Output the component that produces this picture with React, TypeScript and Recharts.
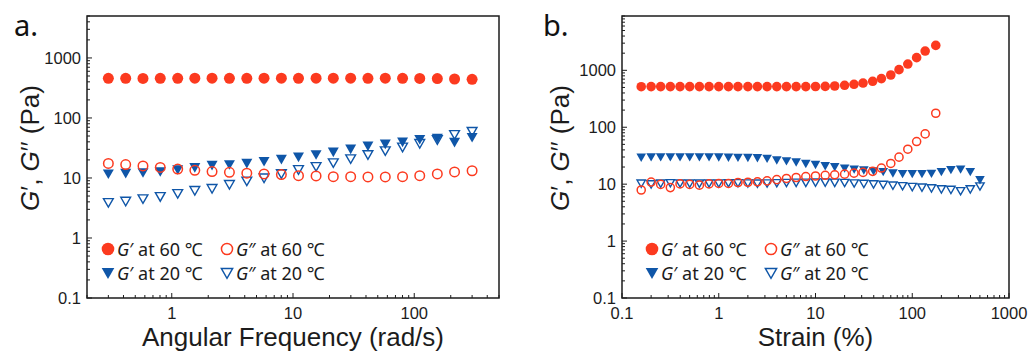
import { ScatterChart, Scatter, XAxis, YAxis, ReferenceArea, Legend } from 'recharts'

const RED = '#fc3a1f'
const BLUE = '#0f56a8'
const INK = '#1c1c1c'
const AXIS_FONT = '"Liberation Sans", Arial, sans-serif'
const NOTE_FONT = '"Noto Sans", "Noto Sans CJK SC", sans-serif'

// a. frequency sweep, angular frequency in rad/s
const FREQ = [0.3, 0.417, 0.579, 0.804, 1.12, 1.55, 2.15, 2.99, 4.16, 5.77, 8.02, 11.1, 15.5, 21.5, 29.9, 41.5, 57.7, 80.1, 111, 155, 215, 300]
const FREQ_G1_60 = [458, 458, 456, 458, 458, 460, 460, 458, 458, 460, 460, 458, 460, 460, 460, 458, 460, 458, 456, 454, 446, 440]
const FREQ_G2_60 = [17.5, 16.7, 15.9, 15.0, 14.1, 13.4, 12.8, 12.4, 12.0, 11.7, 11.4, 10.9, 10.8, 10.5, 10.5, 10.4, 10.4, 10.5, 10.9, 11.7, 12.6, 13.2]
const FREQ_G1_20 = [11.7, 12.0, 12.3, 12.8, 13.8, 15.0, 16.3, 16.7, 17.6, 18.9, 20.5, 22.4, 24.5, 27.1, 30.4, 34.1, 36.9, 39.8, 44.0, 46.0, 39.5, 47.5]
const FREQ_G2_20 = [3.9, 4.1, 4.5, 4.9, 5.5, 6.2, 6.7, 7.8, 8.9, 10.0, 11.8, 13.8, 15.5, 17.9, 20.9, 24.5, 28.4, 32.7, 37.6, 43.6, 53.0, 59.8]

// b. strain sweep, strain in %
const STRAIN_60 = [0.158, 0.2, 0.251, 0.316, 0.398, 0.501, 0.631, 0.794, 1, 1.26, 1.58, 2, 2.51, 3.16, 3.98, 5.01, 6.31, 7.94, 10, 12.6, 15.8, 20, 25, 31, 39, 48, 60, 73, 90, 111, 136, 175]
const STRAIN_G1_60 = [515, 518, 518, 518, 518, 518, 518, 518, 518, 518, 518, 518, 518, 518, 518, 518, 518, 518, 520, 522, 530, 545, 568, 598, 641, 715, 827, 1028, 1290, 1670, 2180, 2740]
const STRAIN_G2_60 = [7.9, 10.9, 9.9, 8.7, 10.1, 9.9, 9.6, 10.1, 10.3, 10.3, 10.7, 10.8, 11.0, 11.4, 12.0, 12.6, 13.1, 13.6, 13.9, 14.3, 14.6, 15.0, 15.6, 16.1, 16.8, 19.2, 23.1, 29.8, 41.1, 56.1, 76.3, 176]
const STRAIN_20 = [0.158, 0.2, 0.251, 0.316, 0.398, 0.501, 0.631, 0.794, 1, 1.26, 1.58, 2, 2.51, 3.16, 3.98, 5.01, 6.31, 7.94, 10, 12.6, 15.8, 20, 25.1, 31.6, 39.8, 50.1, 63.1, 79.4, 100, 126, 158, 200, 251, 316, 398, 501]
const STRAIN_G1_20 = [29.5, 30, 30, 30, 30, 30, 30, 30, 29.8, 29.6, 29.4, 29.2, 29.0, 28.2, 26.5, 25.5, 24.3, 23.0, 22.0, 20.9, 20.1, 19.0, 18.3, 17.6, 17.0, 16.5, 15.6, 15.2, 15.2, 15.2, 15.4, 16.5, 17.9, 18.3, 16.5, 11.9]
const STRAIN_G2_20 = [10.3, 10.0, 10.3, 10.5, 10.4, 10.3, 10.3, 10.4, 10.4, 10.5, 10.5, 10.4, 10.3, 10.4, 10.5, 10.6, 10.7, 10.7, 10.8, 10.8, 10.7, 10.6, 10.4, 10.2, 10.0, 9.8, 9.5, 9.3, 9.0, 8.8, 8.5, 8.2, 8.0, 7.6, 8.2, 9.2]

// axis ticks (decades get a label, the rest are minor marks)
const FREQ_TICKS = [0.2, 0.3, 0.4, 0.5, 0.6, 0.7, 0.8, 0.9, 1, 2, 3, 4, 5, 6, 7, 8, 9, 10, 20, 30, 40, 50, 60, 70, 80, 90, 100, 200, 300, 400, 500]
const STRAIN_TICKS = [0.1, 0.2, 0.3, 0.4, 0.5, 0.6, 0.7, 0.8, 0.9, 1, 2, 3, 4, 5, 6, 7, 8, 9, 10, 20, 30, 40, 50, 60, 70, 80, 90, 100, 200, 300, 400, 500, 600, 700, 800, 900, 1000]
const MOD_TICKS_A = [0.1, 0.2, 0.3, 0.4, 0.5, 0.6, 0.7, 0.8, 0.9, 1, 2, 3, 4, 5, 6, 7, 8, 9, 10, 20, 30, 40, 50, 60, 70, 80, 90, 100, 200, 300, 400, 500, 600, 700, 800, 900, 1000, 2000, 3000, 4000, 5000]
const MOD_TICKS_B = [0.1, 0.2, 0.3, 0.4, 0.5, 0.6, 0.7, 0.8, 0.9, 1, 2, 3, 4, 5, 6, 7, 8, 9, 10, 20, 30, 40, 50, 60, 70, 80, 90, 100, 200, 300, 400, 500, 600, 700, 800, 900, 1000, 2000, 3000, 4000, 5000, 6000, 7000, 8000, 9000]

const LEGEND = [
  { kind: 'dot', color: RED, mark: '′', temp: '60' },
  { kind: 'ring', color: RED, mark: '″', temp: '60' },
  { kind: 'tri', color: BLUE, mark: '′', temp: '20' },
  { kind: 'otri', color: BLUE, mark: '″', temp: '20' },
]

const GAP = 6
const isDecade = (v: number) => Math.abs(Math.log10(v) - Math.round(Math.log10(v))) < 1e-6

function Marker({ kind, color, cx, cy, s }: { kind: string; color: string; cx: number; cy: number; s: number }) {
  if (kind === 'dot') return <circle cx={cx} cy={cy} r={s} fill={color} />
  if (kind === 'ring') return <circle cx={cx} cy={cy} r={s - 0.75} fill="none" stroke={color} strokeWidth={1.5} />
  if (kind === 'tri') {
    const pts = `${cx - s},${cy - s * 0.8} ${cx + s},${cy - s * 0.8} ${cx},${cy + s * 0.95}`
    return <polygon points={pts} fill={color} />
  }
  const t = s - 0.6
  const pts = `${cx - t},${cy - t * 0.8} ${cx + t},${cy - t * 0.8} ${cx},${cy + t * 0.95}`
  return <polygon points={pts} fill="none" stroke={color} strokeWidth={1.4} />
}

const XTick = (props: any) => {
  const { x, y, payload } = props
  const ay = y - GAP
  const major = isDecade(payload.value)
  return (
    <g>
      <line x1={x} x2={x} y1={ay} y2={ay - (major ? 5 : 3)} stroke={INK} strokeWidth={1} />
      {major && (
        <text x={x} y={ay + 21} textAnchor="middle" fontSize={16.5} fontFamily={AXIS_FONT} fill={INK}>
          {String(payload.value)}
        </text>
      )}
    </g>
  )
}

const YTick = (props: any) => {
  const { x, y, payload } = props
  const ax = x + GAP
  const major = isDecade(payload.value)
  return (
    <g>
      <line x1={ax} x2={ax + (major ? 5 : 3)} y1={y} y2={y} stroke={INK} strokeWidth={1} />
      {major && (
        <text x={ax - 6} y={y} dy="0.36em" textAnchor="end" fontSize={16.5} fontFamily={AXIS_FONT} fill={INK}>
          {String(payload.value)}
        </text>
      )}
    </g>
  )
}

function LegendBlock({ s }: { s: number }) {
  return (
    <div style={{ position: 'relative', width: 240, height: 46, fontFamily: NOTE_FONT, fontSize: 18, color: INK }}>
      {LEGEND.map((it, i) => (
        <div
          key={i}
          style={{ position: 'absolute', left: (i % 2) * 119, top: Math.floor(i / 2) * 24, height: 20, display: 'flex', alignItems: 'center', whiteSpace: 'nowrap' }}
        >
          <svg width={14} height={20} style={{ overflow: 'visible' }}>
            <Marker kind={it.kind} color={it.color} cx={7} cy={10} s={s} />
          </svg>
          <span style={{ marginLeft: 2 }}>
            <i>G</i>{it.mark} at {it.temp} ℃
          </span>
        </div>
      ))}
    </div>
  )
}

type Series = { xs: number[]; ys: number[]; kind: string; color: string }

function Panel(p: {
  letter: string
  xDomain: [number, number]
  yDomain: [number, number]
  xTicks: number[]
  yTicks: number[]
  xTitle: string
  yTitleX: number
  yWidth: number
  right: number
  size: number
  legendLeft: number
  series: Series[]
}) {
  return (
    <div style={{ position: 'relative', width: 514, height: 354 }}>
      <div style={{ position: 'absolute', left: p.letter === 'a.' ? 14 : 29, top: 10, fontFamily: NOTE_FONT, fontSize: 29, lineHeight: '29px', color: '#111' }}>
        {p.letter}
      </div>
      <ScatterChart width={514} height={354} margin={{ top: 16, right: p.right, bottom: 0, left: 0 }} style={{ overflow: 'visible' }}>
        <XAxis
          type="number"
          dataKey="x"
          scale="log"
          domain={p.xDomain}
          allowDataOverflow
          ticks={p.xTicks}
          interval={0}
          tickSize={0}
          tickMargin={GAP}
          tickLine={false}
          axisLine={false}
          tick={XTick}
          height={56}
          label={(lp: any) => {
            const vb = lp.viewBox
            return (
              <text x={vb.x + vb.width / 2} y={vb.y + 48} textAnchor="middle" fontSize={26} fontFamily={AXIS_FONT} fill={INK}>
                {p.xTitle}
              </text>
            )
          }}
        />
        <YAxis
          type="number"
          dataKey="y"
          scale="log"
          domain={p.yDomain}
          allowDataOverflow
          ticks={p.yTicks}
          interval={0}
          tickSize={0}
          tickMargin={GAP}
          tickLine={false}
          axisLine={false}
          tick={YTick}
          width={p.yWidth}
          label={(lp: any) => {
            const vb = lp.viewBox
            const cy = vb.y + vb.height / 2 - 9
            return (
              <text
                transform={`translate(${p.yTitleX},${cy}) rotate(-90)`}
                textAnchor="middle"
                dominantBaseline="central"
                fontSize={26}
                fontFamily={AXIS_FONT}
                fill={INK}
              >
                <tspan fontStyle="italic">G</tspan>′, <tspan fontStyle="italic">G</tspan>′′ (Pa)
              </text>
            )
          }}
        />
        <ReferenceArea
          x1={p.xDomain[0]}
          x2={p.xDomain[1]}
          y1={p.yDomain[0]}
          y2={p.yDomain[1]}
          fill="none"
          fillOpacity={0}
          stroke={INK}
          strokeWidth={1.5}
          ifOverflow="visible"
        />
        {p.series.map((s, i) => (
          <Scatter
            key={i}
            data={s.xs.map((x, j) => ({ x, y: s.ys[j] }))}
            isAnimationActive={false}
            shape={(sp: any) => <Marker kind={s.kind} color={s.color} cx={sp.cx} cy={sp.cy} s={p.size} />}
          />
        ))}
        <Legend
          layout="horizontal"
          verticalAlign="middle"
          align="center"
          wrapperStyle={{ left: p.legendLeft, top: 239, width: 240 }}
          content={() => <LegendBlock s={6.3} />}
        />
      </ScatterChart>
    </div>
  )
}

export default function App() {
  return (
    <div style={{ position: 'absolute', left: 0, top: 0, width: 1028, height: 354, background: '#fff', display: 'flex' }}>
      <Panel
        letter="a."
        xDomain={[0.2, 500]}
        yDomain={[0.1, 5000]}
        xTicks={FREQ_TICKS}
        yTicks={MOD_TICKS_A}
        xTitle="Angular Frequency (rad/s)"
        yTitleX={30}
        yWidth={87}
        right={15}
        size={5.5}
        legendLeft={101}
        series={[
          { xs: FREQ, ys: FREQ_G1_60, kind: 'dot', color: RED },
          { xs: FREQ, ys: FREQ_G1_20, kind: 'tri', color: BLUE },
          { xs: FREQ, ys: FREQ_G2_20, kind: 'otri', color: BLUE },
          { xs: FREQ, ys: FREQ_G2_60, kind: 'ring', color: RED },
        ]}
      />
      <Panel
        letter="b."
        xDomain={[0.1, 1000]}
        yDomain={[0.1, 9000]}
        xTicks={STRAIN_TICKS}
        yTicks={MOD_TICKS_B}
        xTitle="Strain (%)"
        yTitleX={46}
        yWidth={108}
        right={19}
        size={4.8}
        legendLeft={131}
        series={[
          { xs: STRAIN_60, ys: STRAIN_G1_60, kind: 'dot', color: RED },
          { xs: STRAIN_20, ys: STRAIN_G1_20, kind: 'tri', color: BLUE },
          { xs: STRAIN_20, ys: STRAIN_G2_20, kind: 'otri', color: BLUE },
          { xs: STRAIN_60, ys: STRAIN_G2_60, kind: 'ring', color: RED },
        ]}
      />
    </div>
  )
}
